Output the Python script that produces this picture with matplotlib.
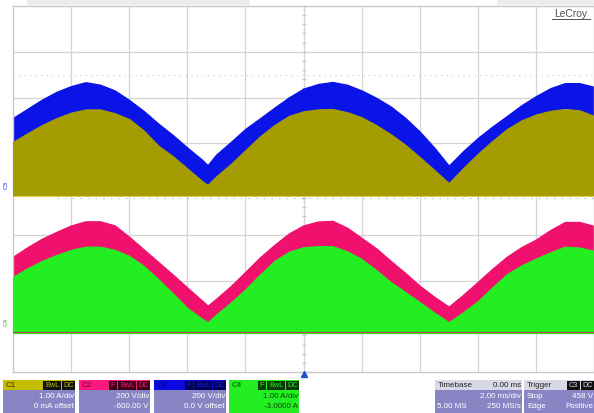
"""LeCroy scope capture: C1/C3 (current + voltage) above, C4/C2 below, 2 ms/div."""

import matplotlib
matplotlib.use("Agg")
import matplotlib.pyplot as plt
from matplotlib.patches import Rectangle

W, H = 594, 414

# time axis (ms) shared by all envelopes
t_ms = [0, 0.5, 1.0, 1.5, 2.0, 2.5, 3.0, 3.5, 4.0, 4.5, 5.0, 5.5, 6.0, 6.5, 6.7,
        7.0, 7.5, 8.0, 8.5, 9.0, 9.5, 10.0, 10.5, 11.0, 11.5, 12.0, 12.5, 13.0,
        13.5, 14.0, 14.5, 15.0, 15.5, 16.0, 16.5, 17.0, 17.5, 18.0, 18.5, 19.0,
        19.5, 20.0]

# C3 (V) upper edge of the ripple band
c3_upper_v = [310, 350, 390, 424, 449, 466, 455, 430, 388, 340, 285, 235, 180, 128, 103,
              150, 205, 262, 308, 355, 400, 438, 458, 467, 455, 430, 398, 360,
              310, 250, 180, 101, 165, 222, 272, 318, 365, 405, 440, 462,
              462, 446]
# C1 (A) switching current envelope
c1_upper_a = [1.03, 1.22, 1.40, 1.55, 1.67, 1.74, 1.74, 1.66, 1.53, 1.28, 0.95, 0.72, 0.45, 0.18, 0.09,
              0.28, 0.55, 0.85, 1.15, 1.40, 1.60, 1.70, 1.74, 1.75, 1.68, 1.57, 1.40, 1.20,
              0.97, 0.70, 0.42, 0.13, 0.46, 0.77, 1.05, 1.31, 1.50, 1.63, 1.71, 1.75,
              1.72, 1.60]
# C2 (V) upper edge of the ripple band
c2_upper_v = [303, 345, 382, 412, 440, 458, 458, 440, 390, 335, 280, 225, 168, 112, 89,
              120, 175, 237, 300, 355, 405, 440, 457, 460, 430, 385, 340, 285,
              232, 176, 128, 85, 137, 193, 250, 303, 345, 378, 420, 455,
              455, 438]
# C4 (A) envelope
c4_upper_a = [1.08, 1.27, 1.43, 1.56, 1.67, 1.74, 1.74, 1.67, 1.54, 1.32, 1.03, 0.72, 0.40, 0.17, 0.09,
              0.26, 0.52, 0.81, 1.13, 1.43, 1.63, 1.73, 1.75, 1.75, 1.64, 1.47, 1.23, 0.97,
              0.75, 0.53, 0.30, 0.09, 0.31, 0.55, 0.85, 1.14, 1.33, 1.48, 1.62, 1.74,
              1.72, 1.65]

c1_base_a = -0.15
c3_base_v = -28
c4_base_a = -0.15
c2_base_v = -25

# channel settings (scale per div, offset)
C1_SCALE, C1_OFF = 1.0, 0.0
C2_SCALE, C2_OFF = 200.0, -600.0
C3_SCALE, C3_OFF = 200.0, 0.0
C4_SCALE, C4_OFF = 1.0, -3.0

BLUE = "#0a14e6"
OLIVE = "#a49c00"
PINK = "#f0106e"
GREEN = "#22ee22"
LAV = "#8985c4"


def to_div(vals, scale, off):
    if isinstance(vals, (int, float)):
        return (vals + off) / scale
    return [(v + off) / scale for v in vals]


def fig_rect(fig, x0, y0, x1, y1, color):
    fig.add_artist(Rectangle((x0 / W, 1 - y1 / H), (x1 - x0) / W, (y1 - y0) / H,
                             transform=fig.transFigure, facecolor=color,
                             edgecolor="none"))


def fig_text(fig, x, y, s, color, ha="left", size=5.8, weight="normal"):
    fig.text(x / W, 1 - y / H, s, color=color, ha=ha, va="center", fontsize=size,
             family="Liberation Sans", fontweight=weight)


def tags(fig, x_right, y0, labels, fg, bg="#111111"):
    # little black "F BwL DC" tags in a channel header, right aligned
    x = x_right
    for lab in reversed(labels):
        w = 5.0 * len(lab) + 3
        fig_rect(fig, x - w, y0 + 0.5, x, y0 + 9.5, bg)
        fig_text(fig, x - w / 2, y0 + 5, lab, fg, ha="center", size=5.2)
        x -= w + 1


def main():
    fig = plt.figure(figsize=(W / 100, H / 100), dpi=100)
    fig.patch.set_facecolor("white")

    # faint bar above the grid
    fig_rect(fig, 27, 0, 250, 6, "#ececec")
    fig_rect(fig, 497, 0, 594, 6, "#ececec")

    ax = fig.add_axes([13 / W, 41 / H, 581 / W, 366 / H])
    ax.set_xlim(0, 20)
    ax.set_ylim(-4, 4)
    ax.set_xticks([]); ax.set_yticks([])
    for s in ax.spines.values():
        s.set_color("#c8c8c8"); s.set_linewidth(1.0)

    for gx in range(2, 20, 2):
        ax.axvline(gx, color="#d4d4d4", lw=0.9, zorder=0)
    for gy in range(-3, 4):
        ax.axhline(gy, color="#d4d4d4", lw=0.9, zorder=0)
    # center-line minor ticks
    mx = [i * 0.4 for i in range(51)]
    my = [-4 + i * 0.2 for i in range(41)]
    ax.plot(mx, [0] * len(mx), ls="none", marker="|", ms=3, color="#c8c8c8", zorder=0)
    ax.plot([10] * len(my), my, ls="none", marker="_", ms=3, color="#c8c8c8", zorder=0)
    ax.axhline(2.5, color="#cfcfcf", lw=0.8, ls=(0, (1, 4)), zorder=0)

    # upper pair: C3 voltage band with C1 current on top
    b3 = to_div(c3_base_v, C3_SCALE, C3_OFF)
    ax.fill_between(t_ms, b3, to_div(c3_upper_v, C3_SCALE, C3_OFF),
                    color=BLUE, lw=1.2, ec=BLUE, zorder=2)
    b1 = to_div(c1_base_a, C1_SCALE, C1_OFF)
    ax.fill_between(t_ms, b1, to_div(c1_upper_a, C1_SCALE, C1_OFF),
                    color=OLIVE, lw=0.8, ec=OLIVE, zorder=3)
    ax.plot([0, 20], [b1, b1], color="#d8cf40", lw=0.8, zorder=3)
    ax.plot([1.5, 20], [b1 - 0.05, b1 - 0.05], color="#2a3ad0", lw=0.5,
            ls=(0, (2, 9)), alpha=0.6, zorder=3)

    # lower pair: C2 voltage band with C4 current on top
    b2 = to_div(c2_base_v, C2_SCALE, C2_OFF)
    ax.fill_between(t_ms, b2, to_div(c2_upper_v, C2_SCALE, C2_OFF),
                    color=PINK, lw=1.2, ec=PINK, zorder=2)
    b4 = to_div(c4_base_a, C4_SCALE, C4_OFF)
    ax.fill_between(t_ms, b4, to_div(c4_upper_a, C4_SCALE, C4_OFF),
                    color=GREEN, lw=0.8, ec=GREEN, zorder=3)
    ax.plot([0, 20], [b4 + 0.02, b4 + 0.02], color="#d03050", lw=0.7, zorder=4)

    # trace markers on the left and trigger arrow
    fig.text(6 / W, 1 - 185 / H, "C3", color=BLUE, fontsize=4.5, rotation=90,
             ha="center", va="center")
    fig.text(6 / W, 1 - 322 / H, "C4", color="#20b020", fontsize=4.5, rotation=90,
             ha="center", va="center")
    ax.plot([10], [-4.05], marker="^", ms=4, color="#2050d0", clip_on=False, zorder=5)

    fig_text(fig, 571, 14, "LeCroy", "#505050", ha="center", size=7.4)
    fig.add_artist(plt.Line2D([552 / W, 590 / W], [1 - 19.5 / H, 1 - 19.5 / H],
                              transform=fig.transFigure, color="#505050", lw=0.7))

    # bottom channel boxes
    hy0, hy1, by1 = 381, 391, 414
    # C1
    fig_rect(fig, 3, hy0, 75, hy1, "#c4bc00")
    fig_rect(fig, 3, hy1, 75, by1, LAV)
    fig_text(fig, 6, 386, "C1", "#3a3600")
    tags(fig, 75, hy0, ["BwL", "DC"], "#c4bc00")
    fig_text(fig, 74, 397, "1.00 A/div", "white", ha="right")
    fig_text(fig, 74, 407, "0 mA offset", "white", ha="right")
    # C2
    fig_rect(fig, 79, hy0, 150, hy1, "#ff1880")
    fig_rect(fig, 79, hy1, 150, by1, LAV)
    fig_text(fig, 82, 386, "C2", "#700030")
    tags(fig, 150, hy0, ["F", "BwL", "DC"], "#ff1880", bg="#3a0018")
    fig_text(fig, 149, 397, "200 V/div", "white", ha="right")
    fig_text(fig, 149, 407, "-600.00 V", "white", ha="right")
    # C3
    fig_rect(fig, 154, hy0, 226, hy1, "#0a0ae0")
    fig_rect(fig, 154, hy1, 226, by1, LAV)
    fig_text(fig, 157, 386, "C3", "#00006a")
    tags(fig, 226, hy0, ["F", "BwL", "DC"], "#1a1ad0", bg="#00005a")
    fig_text(fig, 225, 397, "200 V/div", "white", ha="right")
    fig_text(fig, 225, 407, "0.0 V offset", "white", ha="right")
    # C4
    fig_rect(fig, 229, hy0, 299, by1, GREEN)
    fig_text(fig, 232, 386, "C4", "#0a4a0a")
    tags(fig, 299, hy0, ["F", "BwL", "DC"], GREEN, bg="#0a3a0a")
    fig_text(fig, 298, 397, "1.00 A/div", "#0a4a0a", ha="right")
    fig_text(fig, 298, 407, "-3.0000 A", "#0a4a0a", ha="right")
    # Timebase
    fig_rect(fig, 435, hy0, 522, hy1, "#d8d8e6")
    fig_rect(fig, 435, hy1, 522, by1, LAV)
    fig_text(fig, 438, 386, "Timebase", "#222222")
    fig_text(fig, 521, 386, "0.00 ms", "#222222", ha="right")
    fig_text(fig, 521, 397, "2.00 ms/div", "white", ha="right")
    fig_text(fig, 437, 407, "5.00 MS", "white")
    fig_text(fig, 521, 407, "250 MS/s", "white", ha="right")
    # Trigger
    fig_rect(fig, 524, hy0, 594, hy1, "#d8d8e6")
    fig_rect(fig, 524, hy1, 594, by1, LAV)
    fig_text(fig, 527, 386, "Trigger", "#222222")
    tags(fig, 594, hy0, ["C3", "DC"], "#d8d8e6")
    fig_text(fig, 527, 397, "Stop", "white")
    fig_text(fig, 593, 397, "458 V", "white", ha="right")
    fig_text(fig, 527, 407, "Edge", "white")
    fig_text(fig, 593, 407, "Positive", "white", ha="right")

    fig.savefig("out.png", dpi=100)


if __name__ == "__main__":
    main()
